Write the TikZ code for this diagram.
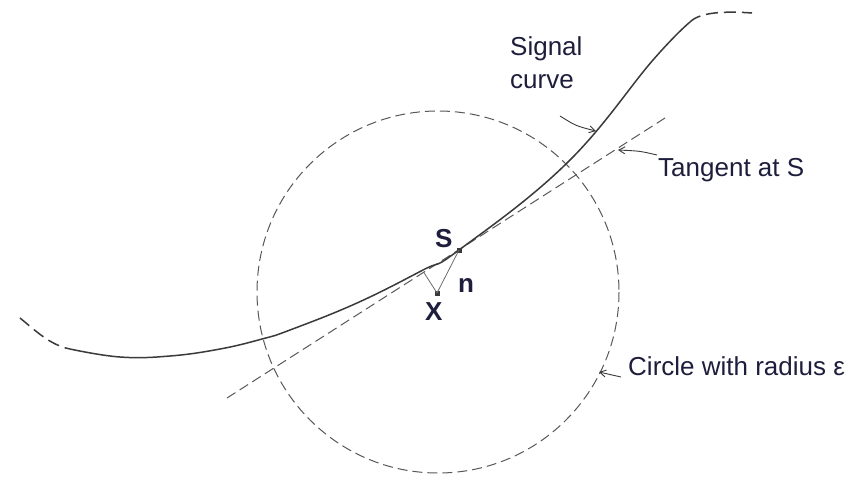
\documentclass[tikz,border=0pt]{standalone}
\usepackage{fontspec}
\setmainfont{Liberation Sans}
\usetikzlibrary{arrows.meta,calc}

\definecolor{inkblue}{HTML}{1E1E3C}
\definecolor{pencil}{HTML}{3A3A3A}

\begin{document}
\begin{tikzpicture}[
      x=1pt, y=-1pt,
      font=\fontsize{26}{33}\selectfont,
      lbl/.style={text=inkblue, inner sep=0pt, anchor=base west},
      pt/.style={fill=pencil, inner sep=0pt, minimum size=5pt},
      sigline/.style={draw=pencil, line width=1.5pt},
      sigdash/.style={draw=pencil, line width=1.5pt, dash pattern=on 12pt off 6pt},
      dashline/.style={draw=pencil!85, line width=1pt, dash pattern=on 10pt off 5pt},
      thinline/.style={draw=pencil!75, line width=0.8pt},
      arr/.style={-{Straight Barb[length=6pt,width=7pt]}, draw=pencil, line width=0.9pt}
    ]
    \useasboundingbox (0,0) rectangle (861,477);

    % circle with radius epsilon
    \draw[dashline] (438,292) circle[radius=181];

    % tangent at S
    \coordinate (tanA) at (227,398);
    \coordinate (tanB) at (665,118);
    \draw[dashline] (tanA) -- (tanB);

    % signal curve
    \coordinate (sigA) at (20,318);
    \coordinate (sigB) at (70,349);
    \coordinate (sigC) at (690,22);
    \coordinate (sigD) at (752,13);
    \draw[sigdash] (sigA) .. controls (36,331) and (50,345) .. (sigB);
    \draw[sigline] plot[smooth, tension=0.7] coordinates {(70,349) (120,357) (170,356)
      (220,349) (262,339) (290,330) (357,303) (423,270) (459,250)
      (567,163) (653,60) (690,22)};
    \draw[sigdash] (sigC) .. controls (700,12) and (725,11) .. (sigD);

    % points S and X
    \node[pt] (S) at (459,250) {};
    \node[pt] (X) at (437,293) {};
    \coordinate (foot) at ($(tanA)!(X)!(tanB)$);
    \draw[thinline] (X.center) -- (S.center);
    \draw[thinline] (X.center) -- (foot);

    \node[lbl, font=\fontsize{26}{33}\selectfont\bfseries] (Slbl) at (435,247) {S};
    \node[lbl, font=\fontsize{26}{33}\selectfont\bfseries] (Xlbl) at (425,320) {X};
    \node[lbl, font=\fontsize{26}{33}\selectfont\bfseries] (nlbl) at (458,292) {n};

    % labels and pointers
    \node[lbl, anchor=north west, align=left] (sig) at (510,36) {Signal\\curve};
    \node[lbl] (tan) at (658,176) {Tangent at S};
    \node[lbl] (circ) at (628,375) {Circle with radius ε};

    \coordinate (sigTail) at (560,116);
    \coordinate (sigHead) at (596,131);
    \coordinate (tanTail) at (657,155);
    \coordinate (tanHead) at (618,150);
    \coordinate (circTail) at (621,377);
    \coordinate (circHead) at (599,372);
    \draw[arr] (sigTail) .. controls (576,126) .. (sigHead);
    \draw[arr] (tanTail) .. controls (640,151) .. (tanHead);
    \draw[arr] (circTail) -- (circHead);
  \end{tikzpicture}
\end{document}
